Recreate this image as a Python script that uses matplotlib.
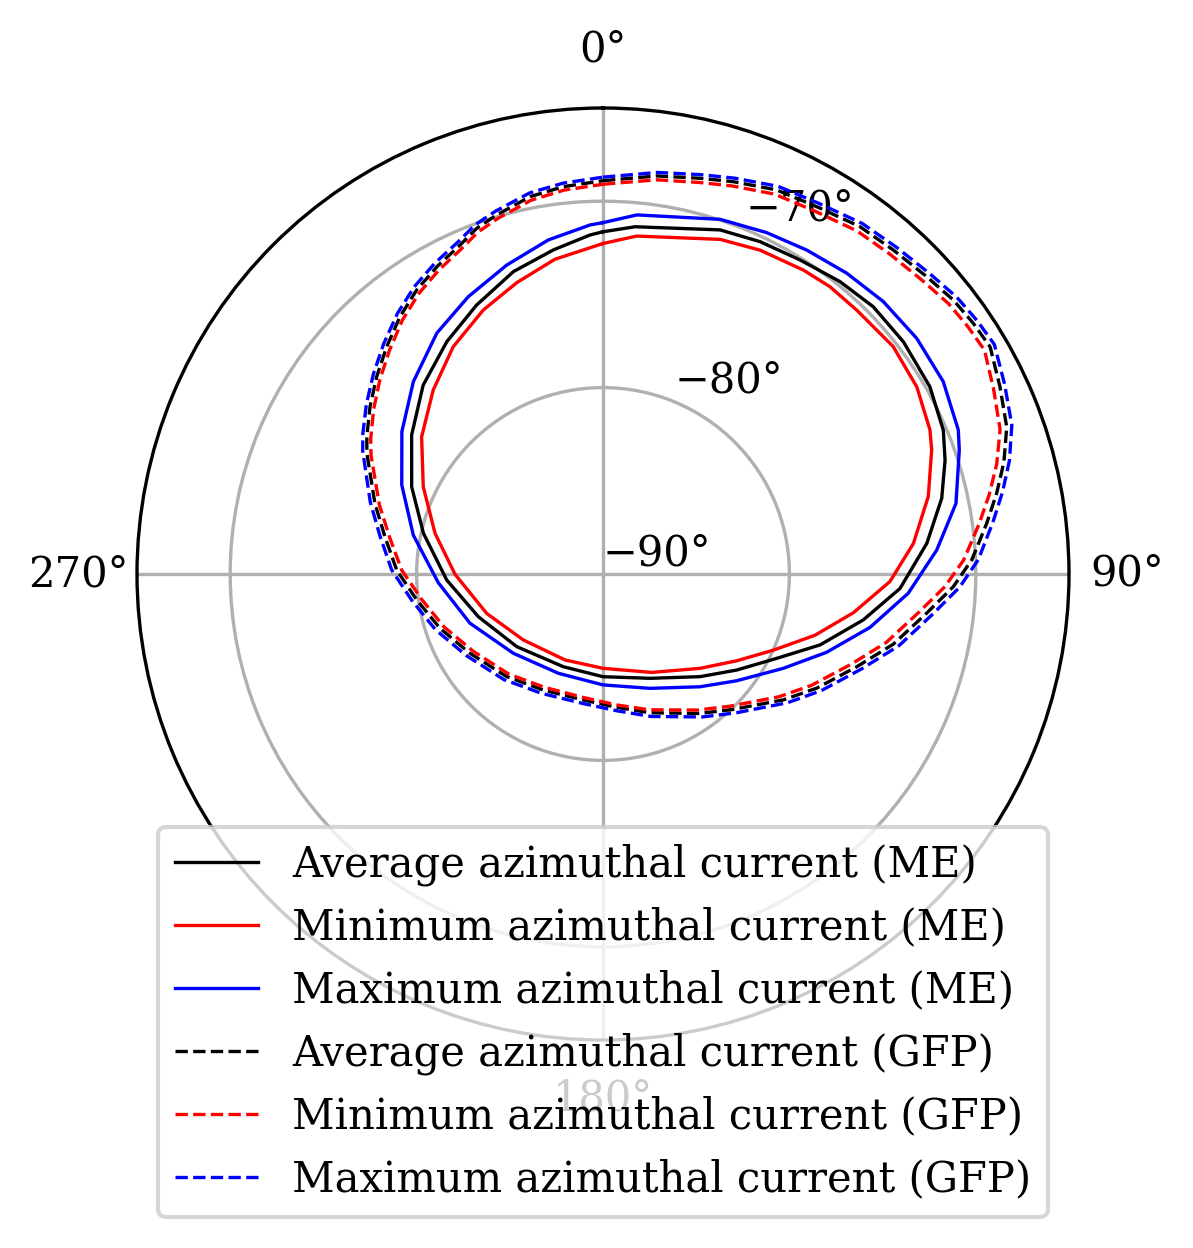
import numpy as np
import matplotlib
matplotlib.use("Agg")
import matplotlib.pyplot as plt

plt.rcParams['font.family'] = ['DejaVu Serif']
plt.rcParams['font.size'] = 10

# ---- data: (angle in degrees, clockwise from north ; latitude in degrees) ----
avg_me_theta = [0.0, 5.3, 18.8, 25.3, 32.1, 39.0, 45.3, 52.3, 60.2, 67.1, 71.6, 77.4, 84.6,
                92.8, 100.0, 108.1, 115.9, 125.7, 136.6, 155.7, 180.0, 203.2, 229.9, 251.1,
                267.8, 282.8, 294.5, 306.0, 316.4, 326.1, 334.8, 343.5, 351.3, 357.8]
avg_me_lat = [-71.64, -71.29, -70.50, -70.28, -70.11, -69.81, -69.61, -69.63, -69.79, -70.18,
              -70.66, -71.38, -72.55, -74.05, -75.82, -77.75, -79.64, -81.17, -82.42, -83.86,
              -84.49, -84.59, -83.95, -82.93, -81.61, -80.12, -78.72, -77.31, -76.01, -74.98,
              -74.06, -73.08, -72.41, -71.80]

min_me_theta = [0.0, 5.7, 19.3, 25.9, 33.4, 38.3, 43.9, 51.9, 59.2, 66.2, 69.3, 76.6, 84.4,
                91.5, 98.8, 106.1, 114.1, 123.0, 134.2, 153.7, 180.0, 203.8, 230.4, 251.3,
                269.9, 283.6, 295.9, 307.1, 317.3, 326.6, 335.6, 343.5, 351.3]
min_me_lat = [-72.27, -71.78, -70.98, -70.69, -70.47, -70.36, -70.36, -70.22, -70.40, -70.83,
              -71.15, -72.06, -73.27, -74.60, -76.41, -78.16, -79.99, -81.45, -82.74, -84.11,
              -84.94, -84.96, -84.45, -83.41, -82.06, -80.73, -79.28, -77.80, -76.57, -75.40,
              -74.45, -73.70, -72.92]

max_me_theta = [0.0, 5.4, 18.3, 25.6, 32.2, 39.0, 45.8, 53.1, 60.5, 67.9, 70.8, 78.7, 85.9,
                93.6, 101.3, 109.3, 117.6, 128.6, 139.3, 157.7, 180.0, 204.2, 228.5, 249.7,
                267.0, 281.6, 293.9, 305.3, 315.4, 325.4, 334.1, 342.7, 350.7, 357.9]
max_me_lat = [-71.15, -70.65, -69.96, -69.69, -69.47, -69.23, -69.03, -68.95, -69.03, -69.43,
              -69.76, -70.69, -72.05, -73.59, -75.39, -77.29, -79.08, -80.82, -82.02, -83.37,
              -84.05, -84.16, -83.58, -82.39, -81.15, -79.61, -78.19, -76.78, -75.51, -74.30,
              -73.46, -72.64, -71.84, -71.26]

gfp_theta = [0.0, 7.7, 13.8, 18.4, 24.3, 30.2, 36.5, 41.9, 47.4, 52.0, 55.9, 59.6, 64.7, 70.0,
             74.4, 78.4, 82.5, 87.8, 92.1, 96.9, 103.6, 110.1, 118.1, 124.9, 136.1, 145.2,
             161.3, 174.1, 188.9, 207.2, 223.2, 239.2, 251.6, 262.1, 271.1, 279.7, 287.2,
             297.1, 300.2, 305.7, 311.1, 316.4, 321.7, 326.7, 331.6, 336.5, 339.9, 343.5,
             349.1, 354.2]
avg_gfp_lat = [-68.90, -68.45, -68.14, -67.82, -67.39, -67.20, -66.82, -66.66, -66.42, -66.14,
               -66.01, -65.92, -66.45, -66.95, -67.67, -68.44, -69.24, -70.20, -71.20, -72.51,
               -73.98, -75.51, -77.00, -78.20, -79.92, -80.89, -82.14, -82.81, -83.16, -83.00,
               -82.45, -81.69, -80.78, -79.91, -78.93, -78.13, -77.19, -75.77, -75.34, -74.61,
               -73.89, -73.17, -72.42, -71.78, -71.26, -70.76, -70.26, -69.91, -69.38, -69.11]
min_gfp_lat = [-69.09, -68.66, -68.37, -68.06, -67.64, -67.46, -67.10, -66.95, -66.73, -66.46,
               -66.35, -66.27, -66.82, -67.33, -68.07, -68.85, -69.66, -70.64, -71.64, -72.93,
               -74.37, -75.86, -77.32, -78.49, -80.16, -81.11, -82.31, -82.94, -83.29, -83.16,
               -82.63, -81.90, -81.01, -80.17, -79.20, -78.39, -77.44, -76.02, -75.58, -74.85,
               -74.12, -73.40, -72.64, -72.00, -71.47, -70.97, -70.47, -70.11, -69.58, -69.30]
max_gfp_lat = [-68.71, -68.26, -67.94, -67.62, -67.18, -66.99, -66.61, -66.44, -66.19, -65.90,
               -65.76, -65.66, -66.17, -66.66, -67.36, -68.12, -68.91, -69.85, -70.85, -72.17,
               -73.66, -75.21, -76.72, -77.93, -79.67, -80.66, -81.93, -82.62, -82.97, -82.80,
               -82.23, -81.46, -80.53, -79.65, -78.66, -77.86, -76.93, -75.52, -75.09, -74.37,
               -73.66, -72.94, -72.20, -71.56, -71.04, -70.55, -70.05, -69.70, -69.18, -68.92]

series = [
    ("Average azimuthal current (ME)", avg_me_theta, avg_me_lat, "black", "-"),
    ("Minimum azimuthal current (ME)", min_me_theta, min_me_lat, "red", "-"),
    ("Maximum azimuthal current (ME)", max_me_theta, max_me_lat, "blue", "-"),
    ("Average azimuthal current (GFP)", gfp_theta, avg_gfp_lat, "black", "--"),
    ("Minimum azimuthal current (GFP)", gfp_theta, min_gfp_lat, "red", "--"),
    ("Maximum azimuthal current (GFP)", gfp_theta, max_gfp_lat, "blue", "--"),
]

r_ticks = [-90, -80, -70]
r_tick_labels = ["\u221290\u00b0", "\u221280\u00b0", "\u221270\u00b0"]
theta_ticks = [0, 90, 180, 270]
theta_tick_labels = ["0\u00b0", "90\u00b0", "180\u00b0", "270\u00b0"]

W, H = 1193, 1248
fig = plt.figure(figsize=(W / 300, H / 300), dpi=300)
ax = fig.add_axes([137 / W, (H - 1040) / H, 932 / W, 932 / H], projection='polar')
ax.set_theta_zero_location('N')
ax.set_theta_direction(-1)

for label, th, lat, color, ls in series:
    th_c = np.deg2rad(np.append(th, th[0]))
    lat_c = np.append(lat, lat[0])
    ax.plot(th_c, lat_c, color=color, linestyle=ls, linewidth=0.8, label=label)

ax.set_ylim(-90, -65)
ax.set_yticks(r_ticks)
ax.set_yticklabels(r_tick_labels)
ax.set_rlabel_position(22.5)
ax.set_thetagrids(theta_ticks, theta_tick_labels)
ax.grid(True, color='#b0b0b0', linewidth=0.8)

fig.legend(loc='lower center', bbox_to_anchor=(603 / W, 31 / H),
           bbox_transform=fig.transFigure, borderaxespad=0.0)

fig.savefig("out.png", dpi=300)
